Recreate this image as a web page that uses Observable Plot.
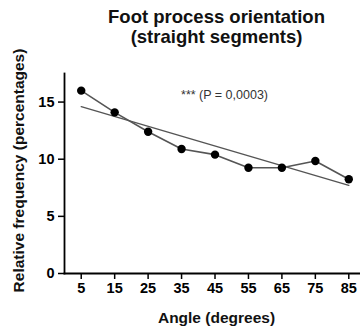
<!DOCTYPE html>
<html>
<head>
<meta charset="utf-8">
<script src="https://cdn.jsdelivr.net/npm/d3@7"></script>
<script src="https://cdn.jsdelivr.net/npm/@observablehq/plot@0.6"></script>
<style>
  html, body { margin: 0; padding: 0; background: #fff; }
  #chart svg { display: block; }
</style>
</head>
<body>
<div id="chart"></div>
<script>
const angles = [5, 15, 25, 35, 45, 55, 65, 75, 85];
const frequencies = [16.0, 14.1, 12.4, 10.9, 10.4, 9.25, 9.25, 9.85, 8.25];
const yTicks = [0, 5, 10, 15];
const xTicks = [5, 15, 25, 35, 45, 55, 65, 75, 85];
const titleLines = ["Foot process orientation", "(straight segments)"];
const annotation = "*** (P = 0,0003)";
const xLabel = "Angle (degrees)";
const yLabel = "Relative frequency (percentages)";

const data = angles.map((a, i) => ({angle: a, freq: frequencies[i]}));
const font = "'Liberation Sans', Arial, Helvetica, sans-serif";
const lineColor = "#555";

const plot = Plot.plot({
  width: 360,
  height: 327,
  marginLeft: 64,
  marginRight: 0,
  marginTop: 73,
  marginBottom: 54,
  style: {fontFamily: font, background: "#fff", color: "#000"},
  x: {domain: [0, 88.5]},
  y: {domain: [0, 17.5]},
  marks: [
    Plot.axisX({ticks: xTicks, tickSize: 6, tickPadding: 3, fontSize: 14.5, fontWeight: "bold", strokeWidth: 1.5, label: null}),
    Plot.axisY({ticks: yTicks, tickSize: 6, tickPadding: 4, fontSize: 14.5, fontWeight: "bold", strokeWidth: 1.5, label: null}),
    Plot.frame({anchor: "bottom", strokeWidth: 1.8}),
    Plot.frame({anchor: "left", strokeWidth: 1.8}),
    Plot.linearRegressionY(data, {x: "angle", y: "freq", ci: 0, stroke: lineColor, strokeWidth: 1.4}),
    Plot.line(data, {x: "angle", y: "freq", stroke: lineColor, strokeWidth: 1.6}),
    Plot.dot(data, {x: "angle", y: "freq", r: 4.2, fill: "#000", stroke: "none"}),
    Plot.text([titleLines[0]], {frameAnchor: "top", lineAnchor: "middle", textAnchor: "middle", dx: 4, dy: -56, fontSize: 18.5, fontWeight: "bold", fill: "#111"}),
    Plot.text([titleLines[1]], {frameAnchor: "top", lineAnchor: "middle", textAnchor: "middle", dx: 4, dy: -36, fontSize: 18.5, fontWeight: "bold", fill: "#111"}),
    Plot.text([annotation], {frameAnchor: "top", lineAnchor: "middle", textAnchor: "middle", dx: 12, dy: 21, fontSize: 12.5, fill: "#333"}),
    Plot.text([xLabel], {frameAnchor: "bottom", lineAnchor: "middle", textAnchor: "middle", dx: 4, dy: 45, fontSize: 15.5, fontWeight: "bold", fill: "#111"}),
    Plot.text([yLabel], {frameAnchor: "left", lineAnchor: "middle", textAnchor: "middle", dx: -45, dy: -3, rotate: -90, fontSize: 15.5, fontWeight: "bold", fill: "#111"})
  ]
});
document.getElementById("chart").appendChild(plot);
</script>
</body>
</html>
